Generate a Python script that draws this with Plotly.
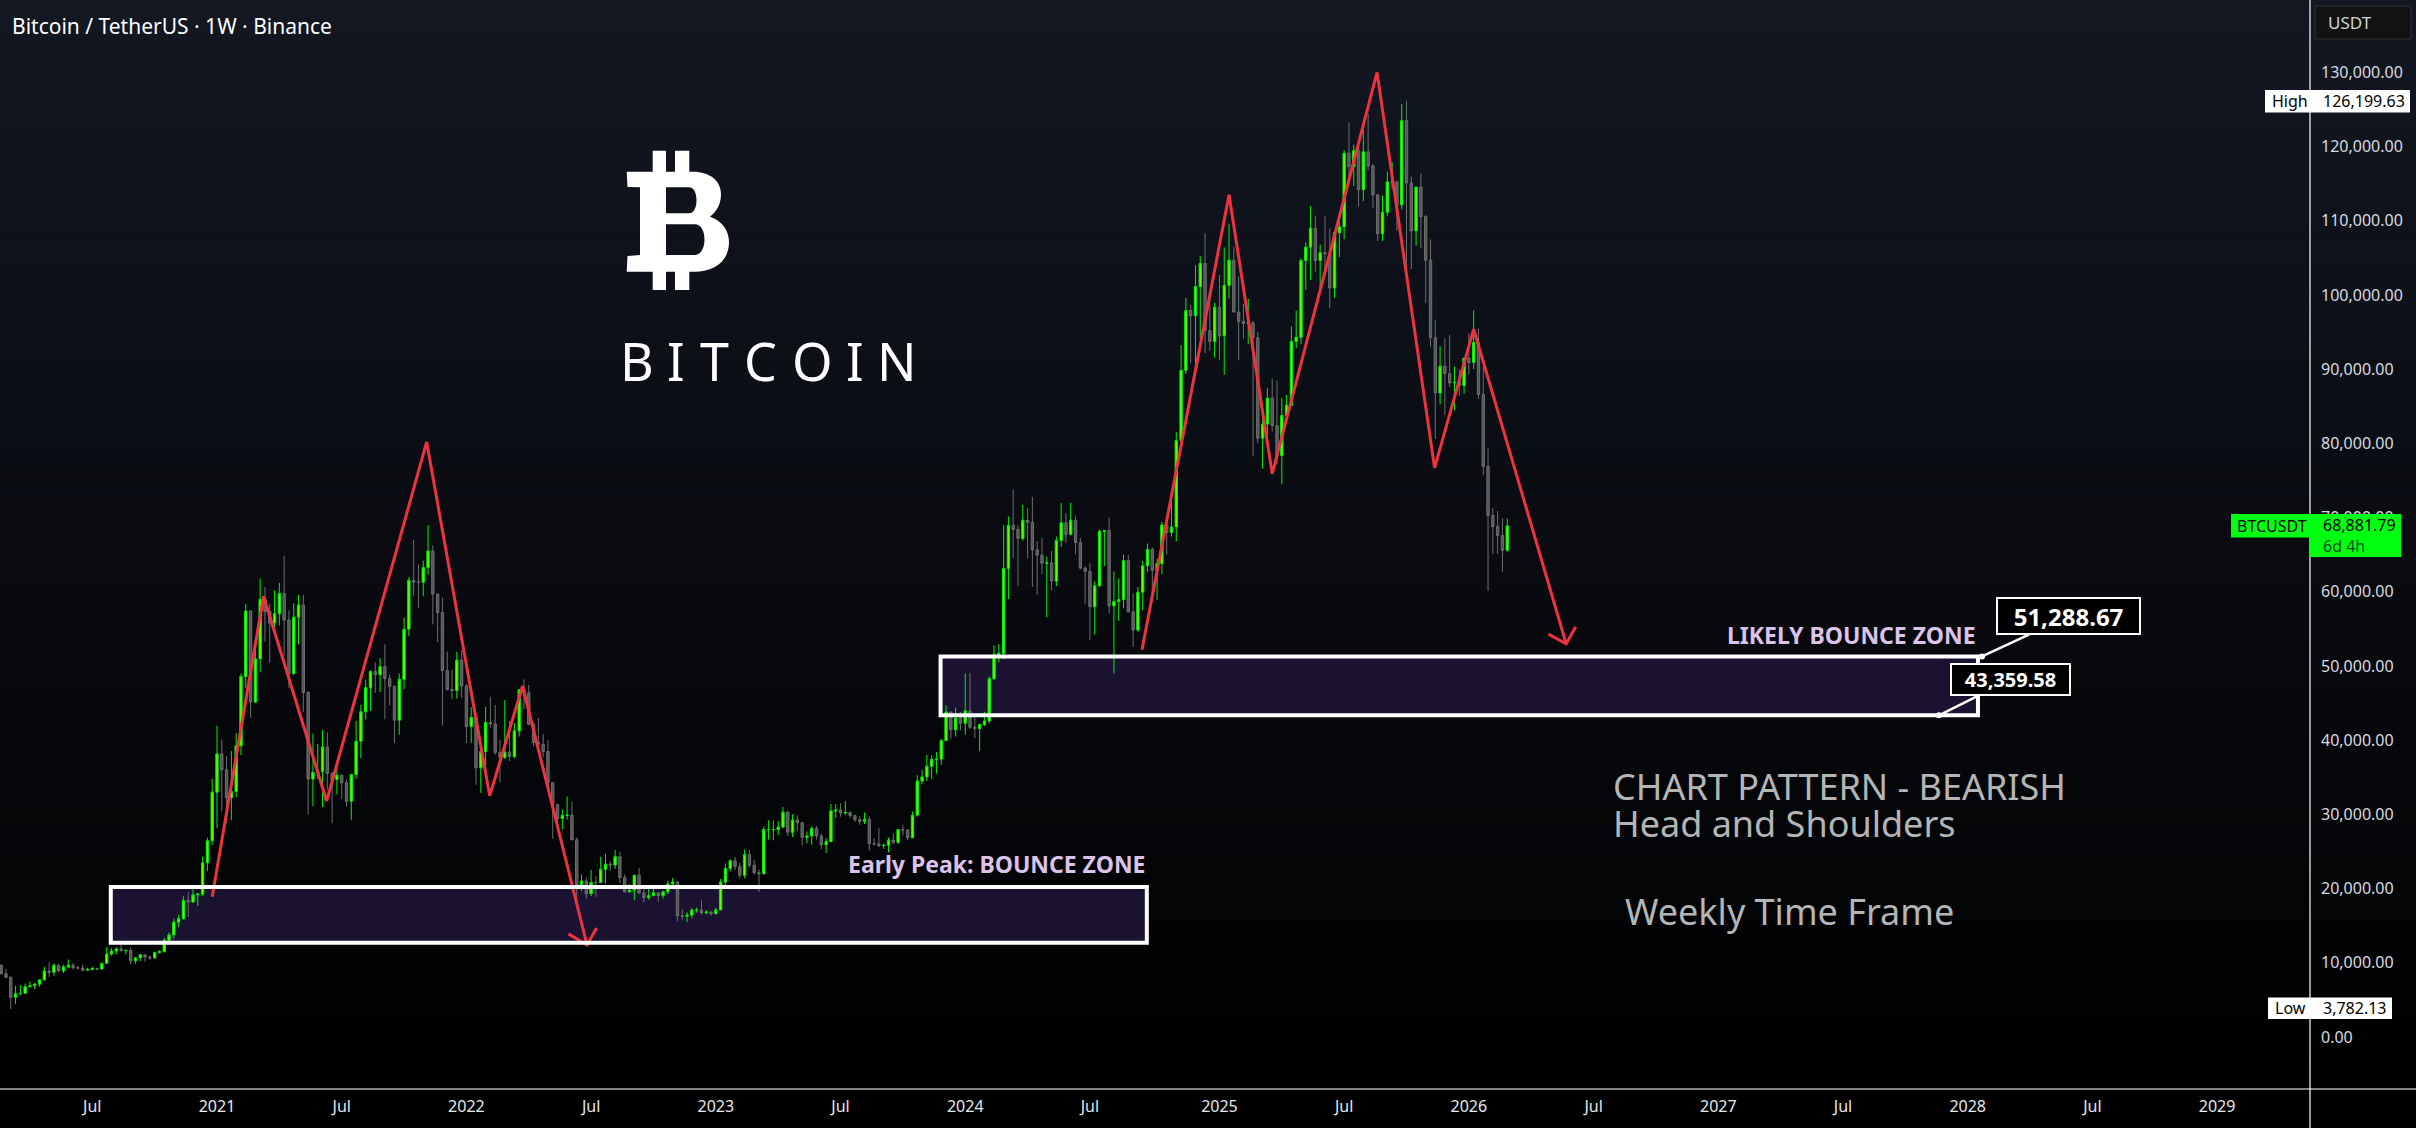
import pandas as pd
import plotly.graph_objects as go

# ---------------- DATA (weekly BTCUSDT, values in thousands of USDT) ----------------
TITLE = "Bitcoin / TetherUS · 1W · Binance"
FIRST_WEEK = "2020-02-24"
FIRST_OPEN = 9.69

HIGH_2020 = [9.72, 9.19, 8.18, 6.90, 6.97, 7.20, 7.47, 7.29, 7.74, 9.46, 10.07, 9.94, 9.84, 9.74, 10.43,
             9.99, 9.59, 9.79, 9.31, 9.46, 9.34, 9.99, 12.12, 12.00, 12.09, 12.47, 11.79, 12.09, 10.79,
             11.18, 10.99, 10.95, 11.49, 11.72, 13.35, 14.10, 15.96, 16.48, 18.95, 19.48, 19.92, 19.40,
             24.30, 26.87, 34.78]
LOW_2020 = [8.45, 8.00, 3.782, 4.44, 5.68, 5.86, 6.77, 6.46, 6.78, 7.63, 8.12, 8.20, 8.81, 8.63, 9.27,
            9.07, 9.20, 8.83, 8.94, 9.05, 9.00, 9.13, 9.92, 10.99, 11.13, 11.52, 11.13, 9.83, 9.88,
            10.25, 10.14, 10.37, 10.53, 11.25, 11.41, 12.90, 13.20, 14.80, 15.80, 16.20, 18.10, 17.65,
            19.00, 22.35, 25.90]
CLOSE_2020 = [8.53, 8.03, 5.36, 5.83, 5.88, 6.78, 6.91, 7.12, 7.70, 8.89, 8.72, 9.67, 8.90, 9.45, 9.67,
              9.34, 9.29, 9.01, 9.07, 9.23, 9.16, 9.93, 11.18, 11.59, 11.85, 11.65, 11.68, 10.26, 10.68,
              11.08, 10.78, 10.67, 11.38, 11.50, 13.03, 13.76, 15.48, 15.96, 18.42, 18.18, 19.15, 19.27,
              23.48, 26.45, 33.00]

HIGH_2021 = [41.95, 40.10, 37.85, 38.53, 40.95, 49.00, 58.35, 57.50, 52.64, 61.80, 60.63, 58.40, 60.20,
             61.20, 64.85, 57.50, 58.45, 59.58, 59.60, 46.65, 40.90, 39.48, 41.33, 41.06, 35.75, 36.60,
             35.10, 34.66, 35.40, 42.60, 44.80, 48.15, 49.40, 50.50, 51.05, 52.92, 48.85, 47.35, 49.00,
             56.50, 62.00, 67.00, 63.70, 64.20, 69.00, 66.30, 59.50, 59.20, 51.95, 49.50, 51.90, 52.10]
LOW_2021 = [28.13, 30.42, 28.85, 29.24, 32.30, 37.99, 47.00, 43.00, 45.00, 49.15, 53.27, 50.43, 54.90,
            55.47, 51.30, 47.00, 48.80, 52.90, 43.80, 30.00, 31.10, 34.80, 31.00, 33.33, 28.80, 32.70,
            32.10, 31.00, 29.28, 34.80, 37.60, 42.80, 43.95, 46.37, 46.50, 42.80, 44.70, 39.60, 40.75,
            46.90, 54.00, 59.50, 57.80, 59.40, 62.30, 55.60, 53.25, 42.00, 46.70, 45.50, 45.60, 45.70]
CLOSE_2021 = [38.15, 36.02, 32.26, 33.09, 39.25, 48.58, 57.41, 45.14, 50.97, 59.00, 57.35, 55.78, 57.06,
              59.77, 56.20, 49.00, 56.58, 58.23, 46.43, 34.77, 35.66, 35.80, 39.10, 35.50, 34.69, 35.29,
              34.26, 31.78, 35.40, 39.86, 43.83, 47.08, 49.25, 48.83, 49.92, 48.30, 47.26, 42.70, 48.20,
              54.95, 61.55, 61.30, 61.30, 63.27, 65.50, 59.70, 57.20, 49.40, 46.85, 46.70, 50.80, 47.30]

HIGH_2022 = [47.55, 44.45, 43.50, 38.90, 44.50, 45.85, 44.75, 40.00, 45.40, 42.60, 42.30, 46.90, 48.20,
             47.45, 42.40, 42.98, 40.80, 40.00, 34.30, 31.45, 30.65, 32.40, 31.70, 26.90, 21.90, 21.50,
             22.50, 21.65, 24.28, 24.67, 23.65, 25.20, 25.00, 21.90, 20.60, 21.85, 22.80, 19.95, 20.20,
             20.45, 19.55, 19.70, 21.10, 21.45, 21.00, 17.20, 16.80, 17.40, 17.43, 18.40, 17.10, 16.95]
LOW_2022 = [39.65, 39.60, 34.00, 32.90, 36.25, 41.70, 38.00, 34.30, 37.45, 37.20, 37.55, 40.50, 44.20,
            42.00, 39.20, 38.50, 37.70, 33.70, 26.70, 28.65, 28.00, 29.30, 26.55, 17.62, 19.65, 18.60,
            19.00, 18.90, 20.75, 20.70, 22.40, 22.65, 20.75, 19.50, 19.55, 18.50, 19.30, 18.15, 18.50,
            19.05, 18.20, 18.65, 19.25, 20.05, 15.60, 15.80, 15.48, 16.00, 16.75, 16.50, 16.55, 16.33]
CLOSE_2022 = [41.85, 43.08, 36.28, 38.47, 42.40, 42.20, 38.35, 37.70, 38.40, 37.80, 41.26, 46.80, 46.40,
              42.15, 39.70, 39.45, 38.47, 34.28, 31.30, 29.45, 29.87, 29.90, 26.57, 20.55, 21.03, 19.30,
              20.83, 20.80, 22.60, 23.30, 23.18, 24.30, 21.50, 19.55, 19.80, 21.80, 19.40, 18.80, 19.05,
              19.44, 19.07, 19.57, 20.63, 20.90, 16.33, 16.28, 16.43, 17.10, 17.10, 16.74, 16.84, 16.62]

HIGH_2023 = [17.40, 21.30, 23.38, 23.95, 24.25, 23.45, 25.25, 25.25, 23.90, 22.60, 28.40, 29.20, 29.20,
             29.10, 31.00, 30.50, 30.05, 29.85, 28.90, 27.70, 28.45, 28.45, 27.40, 26.80, 31.40, 31.40,
             31.50, 31.80, 30.40, 29.60, 29.75, 30.25, 29.70, 26.80, 28.15, 26.00, 26.90, 27.45, 28.00,
             28.60, 28.00, 30.40, 35.28, 35.98, 38.00, 37.95, 38.40, 40.20, 44.70, 43.50, 44.40, 43.80]
LOW_2023 = [16.50, 17.10, 20.40, 22.30, 22.50, 21.35, 21.40, 22.80, 21.90, 19.55, 21.90, 26.60, 26.50,
            27.20, 28.17, 27.10, 26.95, 27.70, 25.80, 26.10, 25.90, 26.60, 25.35, 24.80, 26.25, 29.50,
            29.70, 29.95, 29.50, 29.00, 28.60, 28.70, 25.15, 25.80, 25.60, 25.35, 24.90, 26.00, 26.00,
            27.15, 26.55, 26.95, 29.70, 34.05, 34.50, 34.80, 35.50, 36.70, 39.95, 40.20, 40.50, 41.30]
CLOSE_2023 = [17.13, 20.88, 22.70, 23.75, 22.95, 21.80, 24.60, 23.15, 22.15, 22.00, 27.95, 27.95, 27.95,
              28.30, 30.30, 27.60, 29.25, 28.90, 26.90, 27.10, 28.10, 27.10, 25.90, 26.34, 30.47, 30.58,
              30.20, 30.25, 29.85, 29.28, 29.05, 29.30, 26.05, 26.00, 25.80, 25.85, 26.52, 26.25, 27.95,
              27.90, 26.85, 29.90, 34.50, 35.05, 36.50, 37.40, 37.45, 39.95, 43.80, 41.40, 43.00, 42.28]

HIGH_2024 = [48.95, 49.05, 43.55, 42.25, 43.85, 48.60, 52.80, 52.95, 69.00, 70.15, 73.78, 68.95, 71.75,
             71.30, 72.80, 66.85, 67.25, 64.75, 65.50, 67.45, 71.95, 70.60, 72.00, 70.20, 67.25, 63.40,
             63.85, 61.40, 68.40, 68.30, 70.00, 62.75, 61.80, 65.00, 64.95, 59.80, 60.65, 64.15, 66.50,
             66.00, 64.45, 69.40, 69.50, 73.60, 81.50, 93.25, 99.60, 98.70, 104.00, 105.25, 108.35,
             99.95, 98.95]
LOW_2024 = [40.75, 41.50, 40.28, 38.55, 41.90, 42.25, 48.10, 50.50, 50.90, 59.00, 64.55, 60.75, 66.90,
            64.50, 60.65, 59.60, 62.40, 56.55, 60.20, 60.75, 66.05, 66.60, 67.60, 65.05, 63.00, 58.40,
            53.50, 54.25, 60.65, 63.45, 57.10, 49.00, 56.10, 57.80, 57.20, 52.55, 54.60, 57.50, 62.70,
            59.85, 58.90, 62.40, 65.05, 67.45, 66.80, 80.20, 89.40, 90.80, 90.50, 94.15, 92.20, 92.50,
            91.55]
CLOSE_2024 = [43.95, 41.75, 41.58, 42.10, 42.60, 48.30, 51.55, 51.70, 63.15, 68.95, 68.40, 67.20, 69.65,
              69.35, 65.65, 64.95, 63.85, 63.90, 61.45, 66.90, 69.30, 67.75, 69.65, 66.65, 63.20, 62.75,
              58.00, 60.80, 68.15, 68.25, 58.10, 58.70, 58.95, 64.20, 57.30, 54.85, 59.95, 63.50, 65.70,
              62.90, 63.80, 69.00, 68.00, 68.75, 80.40, 89.85, 97.90, 97.20, 101.15, 104.25, 95.20,
              93.75, 98.35]

HIGH_2025 = [102.70, 106.40, 109.60, 106.45, 102.50, 98.80, 99.50, 96.50, 95.00, 84.10, 87.45, 88.75,
             88.50, 86.10, 86.50, 95.75, 97.90, 104.95, 107.10, 111.98, 110.70, 106.80, 110.60, 108.95,
             108.55, 110.55, 119.50, 123.20, 120.25, 119.80, 122.30, 124.45, 117.65, 113.30, 113.40,
             116.65, 117.90, 115.40, 125.70, 126.20, 115.95, 114.00, 116.40, 110.80, 107.50, 96.65,
             93.10, 94.15, 94.60, 90.35, 90.00, 91.50]
LOW_2025 = [91.20, 89.25, 99.50, 97.70, 91.20, 94.10, 93.40, 78.25, 80.00, 76.60, 81.15, 81.60, 77.15,
            74.50, 83.10, 85.10, 92.80, 93.35, 100.70, 102.00, 103.05, 100.35, 102.65, 98.20, 99.60,
            105.10, 107.50, 115.70, 114.70, 111.90, 112.65, 116.80, 111.70, 107.25, 107.30, 110.60,
            114.40, 108.65, 111.55, 102.00, 103.50, 106.65, 106.30, 98.95, 93.00, 80.60, 85.25, 83.80,
            87.60, 84.45, 86.40, 86.70]
CLOSE_2025 = [94.50, 101.30, 104.70, 97.70, 96.45, 96.15, 96.25, 94.25, 80.70, 82.60, 86.10, 82.40,
              78.35, 83.75, 85.15, 93.75, 94.30, 104.65, 106.45, 109.00, 104.65, 105.70, 105.55, 100.95,
              108.40, 109.20, 119.10, 117.30, 119.45, 114.20, 119.30, 117.40, 113.50, 108.25, 111.15,
              115.25, 115.25, 112.15, 123.50, 115.10, 108.65, 114.55, 110.55, 104.70, 94.25, 86.80,
              90.40, 89.40, 88.15, 88.25, 87.80, 91.50]

HIGH_2026 = [94.80, 97.90, 95.50, 90.40, 79.30, 71.30, 70.90, 69.90, 69.90]
LOW_2026 = [89.30, 90.00, 86.00, 75.70, 60.10, 65.10, 65.10, 62.70, 65.40]
CLOSE_2026 = [90.90, 93.60, 86.60, 76.90, 70.30, 68.80, 67.60, 65.60, 68.88179]

ALL_HIGH = HIGH_2020 + HIGH_2021 + HIGH_2022 + HIGH_2023 + HIGH_2024 + HIGH_2025 + HIGH_2026
ALL_LOW = LOW_2020 + LOW_2021 + LOW_2022 + LOW_2023 + LOW_2024 + LOW_2025 + LOW_2026
ALL_CLOSE = CLOSE_2020 + CLOSE_2021 + CLOSE_2022 + CLOSE_2023 + CLOSE_2024 + CLOSE_2025 + CLOSE_2026

# Axis ticks
X_TICK_DATES = ["2020-07-06", "2021-01-04", "2021-07-05", "2022-01-03", "2022-07-04", "2023-01-02",
                "2023-07-03", "2024-01-01", "2024-07-01", "2025-01-06", "2025-07-07", "2026-01-05",
                "2026-07-06", "2027-01-04", "2027-07-05", "2028-01-03", "2028-07-03", "2029-01-01"]
X_TICK_TEXT = ["Jul", "2021", "Jul", "2022", "Jul", "2023", "Jul", "2024", "Jul", "2025", "Jul",
               "2026", "Jul", "2027", "Jul", "2028", "Jul", "2029"]
Y_TICKS = [i * 10000 for i in range(14)]

# Drawings (time / price anchors)
ZIGZAG_1_T = ["2020-12-28", "2021-03-13", "2021-06-13", "2021-11-06", "2022-02-06", "2022-03-26", "2022-06-28"]
ZIGZAG_1_P = [18900, 59400, 31800, 80200, 32500, 47300, 12400]
ARROW_1_T = ["2022-06-01", "2022-06-28", "2022-07-12"]
ARROW_1_P = [13900, 12400, 14700]
ZIGZAG_2_T = ["2024-09-15", "2025-01-20", "2025-03-24", "2025-08-24", "2025-11-16", "2026-01-12", "2026-05-27"]
ZIGZAG_2_P = [52200, 113500, 75900, 130000, 76700, 95400, 53000]
ARROW_2_T = ["2026-05-01", "2026-05-27", "2026-06-10"]
ARROW_2_P = [54300, 53000, 55300]

EARLY_ZONE_T = ["2020-08-02", "2024-09-22"]
EARLY_ZONE_P = [12700, 20200]
LIKELY_ZONE_T = ["2023-11-26", "2028-01-18"]
LIKELY_ZONE_P = [43359.58, 51288.67]
NOTE_TOP_T = "2028-01-24"
NOTE_BOTTOM_T = "2027-11-22"

LAST_PRICE = 68881.79
HIGH_PRICE = 126199.63
LOW_PRICE = 3782.13

# ---------------- BUILD ----------------
W, H = 2416, 1128
PW, PH = 2310, 1089  # plot area (left/top margins 0)

close = [c * 1000 for c in ALL_CLOSE]
opens = [FIRST_OPEN * 1000] + close[:-1]
high = [max(h * 1000, o, c) for h, o, c in zip(ALL_HIGH, opens, close)]
low = [min(l * 1000, o, c) for l, o, c in zip(ALL_LOW, opens, close)]
weeks = pd.date_range(FIRST_WEEK, periods=len(close), freq="7D")


def px_x(p):
    return p / PW


def px_y(p):
    return 1 - p / PH


fig = go.Figure()
fig.add_trace(go.Candlestick(
    x=weeks, open=opens, high=high, low=low, close=close,
    increasing=dict(line=dict(color="#00f000", width=1), fillcolor="#66ff00"),
    decreasing=dict(line=dict(color="#6e6e6e", width=1), fillcolor="#555555"),
    whiskerwidth=0, showlegend=False, hoverinfo="skip",
))

RED = "#ee3340"
for tx, py in [(ZIGZAG_1_T, ZIGZAG_1_P), (ARROW_1_T, ARROW_1_P), (ZIGZAG_2_T, ZIGZAG_2_P), (ARROW_2_T, ARROW_2_P)]:
    fig.add_trace(go.Scatter(x=pd.to_datetime(tx), y=py, mode="lines",
                             line=dict(color=RED, width=3), showlegend=False, hoverinfo="skip"))

# anchor dots of the price notes
fig.add_trace(go.Scatter(x=pd.to_datetime([NOTE_TOP_T, NOTE_BOTTOM_T]), y=[LIKELY_ZONE_P[1], LIKELY_ZONE_P[0]],
                         mode="markers", marker=dict(color="white", size=6), showlegend=False, hoverinfo="skip"))

shapes = []
# gradient background
N = 70
for i in range(N):
    t = (i + 0.5) / N
    r = round(19 * (1 - t)); g = round(23 * (1 - t)); b = round(34 * (1 - t))
    shapes.append(dict(type="rect", xref="paper", yref="paper", x0=0, x1=W / PW,
                       y0=px_y((i + 1) * PH / N) - 0.0005, y1=px_y(i * PH / N),
                       fillcolor=f"rgb({r},{g},{b})", line=dict(width=0), layer="below"))

ZONE_FILL = "#1b1131"
for zt, zp in [(EARLY_ZONE_T, EARLY_ZONE_P), (LIKELY_ZONE_T, LIKELY_ZONE_P)]:
    shapes.append(dict(type="rect", xref="x", yref="y", x0=zt[0], x1=zt[1], y0=zp[0], y1=zp[1],
                       fillcolor=ZONE_FILL, line=dict(width=0), layer="below"))
    shapes.append(dict(type="rect", xref="x", yref="y", x0=zt[0], x1=zt[1], y0=zp[0], y1=zp[1],
                       fillcolor="rgba(0,0,0,0)", line=dict(color="white", width=4), layer="above"))

# axis separator lines
shapes.append(dict(type="line", xref="paper", yref="paper", x0=1, x1=1, y0=-(H - PH) / PH, y1=1,
                   line=dict(color="white", width=1.2), layer="above"))
shapes.append(dict(type="line", xref="paper", yref="paper", x0=0, x1=W / PW, y0=0, y1=0,
                   line=dict(color="white", width=1.2), layer="above"))

# Bitcoin logo (pixel-sized path anchored at its top-left corner)
def flip(path):
    out = []
    for tok in path.split():
        if "," in tok:
            a, b = tok.split(",")
            out.append(f"{float(a):.1f},{-float(b):.1f}")
        else:
            out.append(tok)
    return " ".join(out)

B_BODY = ("M 0.7,21.7 L 67,21.7 C 84,21.7 95,31 95,44 C 95,55 90,62 84,66.7 C 96,71 103,80 103,92 "
          "C 103,110 90,121.7 68,121.7 L 0.7,121.7 L 1.5,106 L 14,105 L 14,37.3 L 1.5,37 Z "
          "M 40,37.3 L 63,37.3 C 68,37.3 70.5,43 70.5,50.3 C 70.5,57.6 68,63.3 63,63.3 L 40,63.3 Z "
          "M 40,74.3 L 69,74.3 C 75,74.3 78.5,81 78.5,89.6 C 78.5,98 75,105 69,105 L 40,105 Z")
B_BARS = ("M 26.7,0.7 L 40,0.7 L 40,24 L 26.7,24 Z M 49,0.7 L 63.3,0.7 L 63.3,24 L 49,24 Z "
          "M 26.7,119.5 L 40,119.5 L 40,140 L 26.7,140 Z M 49,119.5 L 63.3,119.5 L 63.3,140 L 49,140 Z")
for pth, rule in [(B_BODY, "evenodd"), (B_BARS, "nonzero")]:
    shapes.append(dict(type="path", xref="paper", yref="paper", xsizemode="pixel", ysizemode="pixel",
                       xanchor=px_x(626), yanchor=px_y(150), path=flip(pth), fillcolor="white",
                       fillrule=rule, line=dict(width=0), layer="above"))

# price-scale label boxes
def box(x0, x1, y0, y1, fill, border=None):
    shapes.append(dict(type="rect", xref="paper", yref="paper", x0=px_x(x0), x1=px_x(x1),
                       y0=px_y(y1), y1=px_y(y0), fillcolor=fill,
                       line=dict(color=border or fill, width=1 if border else 0), layer="above"))

box(2315, 2411, 6, 39, "#121212", "#2e3138")
box(2265, 2410, 90, 112.5, "#ffffff")
box(2268, 2392, 997.5, 1019, "#ffffff")
box(2231, 2310, 514, 537.5, "#00ff11")
box(2310, 2401, 514, 557, "#00ff11")

FONT = "Noto Sans"
ann = []


def label(text, x, y, size, color, xanchor="left", bold=False, family=FONT):
    ann.append(dict(text=f"<b>{text}</b>" if bold else text, xref="paper", yref="paper",
                    x=px_x(x), y=px_y(y), xanchor=xanchor, yanchor="middle", showarrow=False,
                    font=dict(family=family, size=size, color=color)))


label(TITLE, 10, 26, 21, "#ffffff")
label("USDT", 2326, 23, 17, "#d1d4dc")
label("High", 2270, 101, 16, "#000000")
label(f"{HIGH_PRICE:,.2f}", 2321, 101, 16, "#000000")
label("Low", 2273, 1008, 16, "#000000")
label(f"{LOW_PRICE:,.2f}", 2321, 1008, 16, "#000000")
label("BTCUSDT", 2235, 526, 16, "#000000")
label(f"{LAST_PRICE:,.2f}", 2321, 525, 16, "#000000")
label("6d 4h", 2321, 546, 16, "#0a4d12")

# BITCOIN wordmark with wide, even letter spacing
for ch, cx in zip("BITCOIN", [637, 676, 714, 760, 812, 855, 897]):
    label(ch, cx, 360, 52, "#ffffff", xanchor="center")

# chart pattern texts
GRAY = "#b5b5b5"
label("CHART PATTERN - BEARISH", 1611, 786, 36, GRAY)
label("Head and Shoulders", 1611, 824, 36, GRAY)
label("Weekly Time Frame", 1623, 911, 36, GRAY)

# zone captions
PURPLE = "#dcc3ea"
ann.append(dict(text="<b>Early Peak: BOUNCE ZONE</b>", x=EARLY_ZONE_T[1], y=23300, xref="x", yref="y",
                xanchor="right", yanchor="middle", showarrow=False,
                font=dict(family=FONT, size=23, color=PURPLE)))
ann.append(dict(text="<b>LIKELY BOUNCE ZONE</b>", x=LIKELY_ZONE_T[1], y=54200, xref="x", yref="y",
                xanchor="right", yanchor="middle", showarrow=False,
                font=dict(family=FONT, size=23, color=PURPLE)))

# price notes
ann.append(dict(text=f"<b>{LIKELY_ZONE_P[1]:,.2f}</b>", x=NOTE_TOP_T, y=LIKELY_ZONE_P[1], xref="x", yref="y",
                ax=86, ay=-40, showarrow=True, arrowhead=0, arrowwidth=2.5, arrowcolor="white",
                bgcolor="#000000", bordercolor="white", borderwidth=2, borderpad=0, width=141, height=34,
                font=dict(family=FONT, size=24, color="white")))
ann.append(dict(text=f"<b>{LIKELY_ZONE_P[0]:,.2f}</b>", x=NOTE_BOTTOM_T, y=LIKELY_ZONE_P[0], xref="x", yref="y",
                ax=72, ay=-36, showarrow=True, arrowhead=0, arrowwidth=2.5, arrowcolor="white",
                bgcolor="#000000", bordercolor="white", borderwidth=2, borderpad=0, width=117, height=29,
                font=dict(family=FONT, size=20, color="white")))

# x range from pixel calibration: 2021-01-04 at 217 px, 0.6852 px per day
X_LEFT = pd.Timestamp("2021-01-04") - pd.Timedelta(days=217 / 0.6852)
X_RIGHT = pd.Timestamp("2021-01-04") + pd.Timedelta(days=(PW - 217) / 0.6852)
PX_PER_10K = 74.2
Y_TOP = (1037) / PX_PER_10K * 10000
Y_BOTTOM = -(PH - 1037) / PX_PER_10K * 10000

fig.update_layout(
    width=W, height=H, margin=dict(l=0, r=W - PW, t=0, b=H - PH),
    paper_bgcolor="#000000", plot_bgcolor="rgba(0,0,0,0)",
    shapes=shapes, annotations=ann, showlegend=False, hovermode=False,
    xaxis=dict(type="date", range=[X_LEFT, X_RIGHT], rangeslider=dict(visible=False),
               showgrid=False, zeroline=False, showline=False, ticks="",
               tickvals=pd.to_datetime(X_TICK_DATES), ticktext=X_TICK_TEXT,
               tickfont=dict(family=FONT, size=16, color="#e6e8ee"), ticklabelstandoff=6),
    yaxis=dict(side="right", range=[Y_BOTTOM, Y_TOP], showgrid=False, zeroline=False, showline=False,
               ticks="", tickvals=Y_TICKS, tickformat=",.2f", ticklabelstandoff=10,
               tickfont=dict(family=FONT, size=16, color="#d8dae0")),
)

fig.write_html("out.html", config={"displayModeBar": False},
               post_script="document.body.style.margin='0';document.body.style.overflow='hidden';")
